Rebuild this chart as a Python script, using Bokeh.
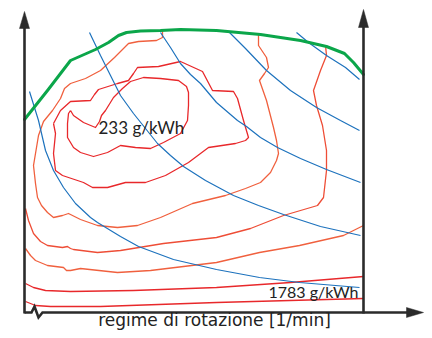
from bokeh.plotting import figure
from bokeh.models import Range1d
from bokeh.embed import file_html
from bokeh.resources import INLINE
from bokeh.core.properties import value

# ---- data (schematic engine map; speed to the right, load measured downward on the page scale) ----
full_load_speed = [24, 47, 70, 95, 108, 118, 126, 140, 160, 180, 216, 260, 300, 326, 344, 353, 363]
full_load_load = [119, 90, 60, 49, 42, 35, 32, 30.5, 30, 29, 30, 34, 40, 46, 53, 62, 74]

# constant power hyperbolas
p1_speed = [29, 38, 45, 53, 63, 75, 90, 97, 120, 138, 173, 216, 259, 299, 359]
p1_load = [91, 120, 150, 170, 187, 203, 217, 222, 236, 246, 259, 269, 277, 282, 287]
p2_speed = [89, 100, 110, 120, 133, 145, 157, 170, 183, 205, 233, 258, 283, 320, 360]
p2_load = [32, 55, 75, 95, 113, 128, 143, 155, 166, 180, 195, 205, 214, 226, 235]
p3_speed = [160, 170, 180, 190, 200, 216, 237, 246, 260, 277, 300, 326, 360]
p3_load = [32, 47, 63, 74, 83, 102, 120, 126, 137, 147, 158, 169, 182]
p4_speed = [228, 245, 266, 290, 316, 340, 359]
p4_load = [31, 48, 70, 90, 107, 120, 130]
p5_speed = [296, 308, 326, 345, 359]
p5_load = [32, 42, 55, 67, 79]

# specific fuel consumption contours
c1_speed = [70, 73, 83, 95, 99, 101, 105, 113, 122, 130, 143, 160, 178, 186, 188, 188, 187, 180, 163, 150, 135, 120, 107, 93, 80, 73, 67, 67, 68, 70]
c1_load = [110, 115, 122, 127, 121, 115, 110, 97, 88, 81, 77, 78, 80, 86, 92, 105, 120, 133, 142, 148, 147, 145, 152, 156, 152, 147, 137, 123, 113, 110]
c2_speed = [53, 60, 70, 90, 94, 98, 117, 128, 133, 137, 158, 180, 202, 212, 233, 237, 243, 248, 245, 235, 208, 188, 165, 145, 125, 107, 92, 83, 62, 55, 53, 55, 53]
c2_load = [123, 110, 101, 100, 94, 89, 83, 80, 73, 67, 66, 61, 71, 90, 91, 98, 120, 137, 140, 143, 147, 162, 175, 182, 182, 187, 187, 182, 175, 170, 153, 133, 123]
c3_speed = [162, 162, 156, 138, 128, 114, 100, 85, 70, 64, 60, 52, 43, 38, 35, 33, 35, 37, 41, 47, 53, 62, 68, 80, 97, 117, 137, 160, 192, 225, 245, 260, 270, 276, 278, 276, 273, 266, 259, 264, 268, 266, 258, 258]
c3_load = [30, 37, 40, 41, 43, 57, 70, 78, 83, 88, 98, 110, 121, 135, 153, 165, 183, 197, 205, 212, 217, 215, 213, 219, 225, 227, 225, 217, 203, 195, 188, 182, 172, 160, 153, 140, 127, 100, 80, 73, 67, 57, 45, 34]
c4_speed = [25, 28, 33, 40, 47, 62, 67, 70, 73, 97, 120, 163, 216, 250, 283, 300, 317, 323, 326, 326, 322, 316, 313, 320, 326, 325]
c4_load = [208, 220, 233, 241, 245, 247, 246, 248, 249, 252, 250, 243, 237, 228, 215, 210, 205, 197, 170, 150, 125, 105, 90, 70, 55, 45]
c5_speed = [25, 30, 35, 47, 63, 66, 70, 80, 117, 150, 216, 259, 299, 343, 363]
c5_load = [248, 255, 260, 265, 267, 270, 270, 268, 272, 270, 262, 252, 245, 235, 225]
c6_speed = [25, 33, 45, 70, 133, 216, 290, 363]
c6_load = [283, 287, 290, 291, 290, 287, 282, 276]
c7_speed = [25, 35, 50, 100, 216, 363]
c7_load = [301, 305, 306, 306, 302, 298]

labels = ["233 g/kWh", "1783 g/kWh"]
x_title = "regime di rotazione [1/min]"

# ---- figure ----
p = figure(width=424, height=330, x_range=Range1d(0, 424), y_range=Range1d(330, 0),
           x_axis_type=None, y_axis_type=None, output_backend="svg",
           toolbar_location=None, min_border=0)
p.grid.visible = False
p.outline_line_color = None
p.background_fill_color = "white"
p.border_fill_color = "white"

red = "#e8282b"
orange = "#f0603e"
contours = [(c1_speed, c1_load, red), (c2_speed, c2_load, red),
            (c3_speed, c3_load, orange), (c4_speed, c4_load, "#ee4d36"),
            (c5_speed, c5_load, orange), (c6_speed, c6_load, red),
            (c7_speed, c7_load, red)]
for xs, ys, col in contours:
    p.line(xs, ys, line_color=col, line_width=1.3, line_join="round")

blue = "#1d72bd"
for xs, ys in [(p1_speed, p1_load), (p2_speed, p2_load), (p3_speed, p3_load),
               (p4_speed, p4_load), (p5_speed, p5_load)]:
    p.line(xs, ys, line_color=blue, line_width=1.2)

p.line(full_load_speed, full_load_load, line_color="#0ba64a", line_width=3,
       line_join="round", line_cap="round")

# axes frame
ax = "#2b2b2b"
p.line([24, 24], [313, 27], line_color=ax, line_width=2.6)
p.line([363, 363], [313, 26], line_color=ax, line_width=2.6)
p.line([24, 31, 34, 38, 42, 408], [312, 312, 306, 317, 312, 312], line_color=ax,
       line_width=2.6, line_join="miter")
p.patches([[24, 19, 29], [363, 358, 368], [423, 406, 406]],
          [[11, 28, 28], [9, 27, 27], [312, 307, 317]],
          fill_color=ax, line_color=ax, line_width=0.5)

p.text(x=[98], y=[127], text=[labels[0]], text_font=value("Lato"), text_font_size="17px",
       text_align="left", text_baseline="alphabetic", text_color="#222222")
p.text(x=[358], y=[291], text=[labels[1]], text_font=value("Lato"), text_font_size="16px",
       text_align="right", text_baseline="alphabetic", text_color="#222222")
p.text(x=[214], y=[319.5], text=[x_title], text_font=value("DejaVu Sans"), text_font_size="17px",
       text_align="center", text_baseline="alphabetic", text_color="#222222")

open("out.html", "w").write(file_html(p, INLINE))
